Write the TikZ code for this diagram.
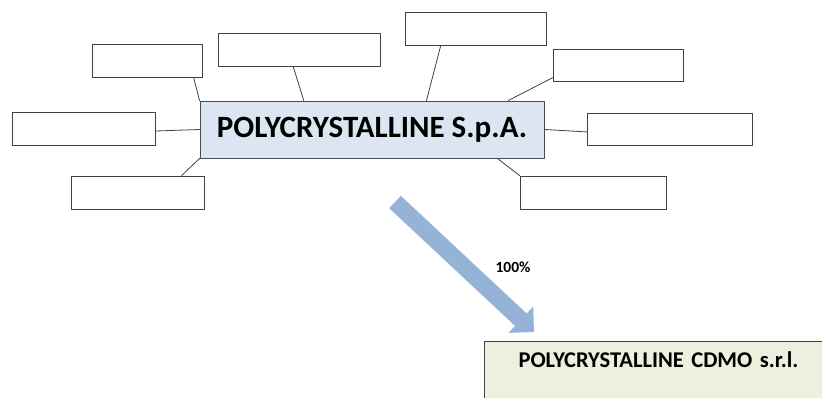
\documentclass[tikz,border=0pt]{standalone}
\usepackage{fontspec}
\setmainfont{Carlito}
\usetikzlibrary{arrows.meta}
\definecolor{spafill}{RGB}{220,230,242}
\definecolor{cdmofill}{RGB}{235,241,222}
\definecolor{arrowblue}{RGB}{149,179,215}
\tikzset{
  emptybox/.style={draw=black!75,line width=0.9pt,fill=white,inner sep=0pt,minimum height=33pt},
  spabox/.style={draw=black!70,line width=0.9pt,fill=spafill,inner sep=0pt,minimum width=344pt,minimum height=57pt,font=\fontsize{31}{34}\selectfont\bfseries},
  cdmobox/.style={draw=black!75,line width=0.9pt,fill=cdmofill,anchor=north west,inner xsep=0pt,inner ysep=10pt,text width=348pt,align=center,text depth=45pt,font=\fontsize{22.5}{26}\selectfont\bfseries},
  link/.style={draw=black!75,line width=0.8pt},
  sharearrow/.style={draw=arrowblue,line width=17pt,line cap=butt,-{Triangle[width=35pt,length=18pt]}}
}
\begin{document}
\begin{tikzpicture}[line cap=round,line join=round,x=1pt,y=-1pt]
\path[use as bounding box,clip] (0,0) rectangle (822,397);
% main company
\node[spabox] (spa) at (372,129.5) {POLYCRYSTALLINE S.p.A.};
% boxes around it
\node[emptybox,minimum width=110pt] (a) at (147,60.5) {};
\node[emptybox,minimum width=162pt] (b) at (299,49.5) {};
\node[emptybox,minimum width=143pt] (c) at (83.5,128.5) {};
\node[emptybox,minimum width=133pt] (d) at (137.5,192.5) {};
\node[emptybox,minimum width=141pt] (e) at (475.5,28.5) {};
\node[emptybox,minimum width=130pt,minimum height=32pt] (f) at (618,65) {};
\node[emptybox,minimum width=165pt,minimum height=32pt] (g) at (669.5,129) {};
\node[emptybox,minimum width=146pt] (h) at (593,192.5) {};
\draw[link] (a.-20) -- (spa.north west);
\draw[link] (b.-109) -- (spa.157.6);
\draw[link] (c.-2) -- (spa.west);
\draw[link] (d.21) -- (spa.south west);
\draw[link] (e.-154) -- (spa.28.7);
\draw[link] (f.-169.5) -- (spa.12.2);
\draw[link] (spa.east) -- (g.-178.6);
\draw[link] (spa.-13.5) -- (h.north west);
% subsidiary
\node[cdmobox] (cdmo) at (484,341) {POLYCRYSTALLINE CDMO s.r.l.};
\coordinate (tail) at (395,202);
\coordinate (tip) at (534,332);
\draw[sharearrow] (tail) -- (tip);
\node[font=\fontsize{15.5}{18}\selectfont\bfseries] (share) at (513,267) {100\%};
\end{tikzpicture}
\end{document}
